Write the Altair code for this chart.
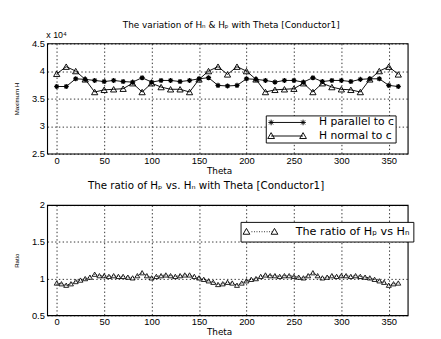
import altair as alt
import pandas as pd

FONT = "Liberation Sans"
TFONT = "DejaVu Sans"

theta = [0, 10, 20, 30, 40, 50, 60, 70, 80, 90, 100, 110, 120, 130, 140, 150, 160, 170, 180,
         190, 200, 210, 220, 230, 240, 250, 260, 270, 280, 290, 300, 310, 320, 330, 340, 350, 360]
h_parallel = [37200, 37200, 38600, 38500, 38300, 38100, 38300, 38100, 38000, 38800, 38000, 38300,
              38300, 38100, 38300, 38600, 38800, 37400, 37300, 37400, 38600, 38500, 38300, 38000,
              38300, 38300, 38000, 38800, 38100, 38300, 38300, 38100, 38500, 38600, 38600, 37400, 37200]
h_normal = [39500, 40800, 40000, 38500, 36200, 36600, 36700, 36800, 37800, 36200, 37800, 37100,
            36700, 36700, 36200, 38500, 40000, 40800, 39400, 40800, 40000, 38500, 36200, 36600,
            36700, 36800, 37800, 36200, 37800, 37100, 36700, 36600, 36200, 38500, 40000, 40800, 39400]

theta_ratio = [0, 5, 10, 15, 20, 25, 30, 35, 40, 45, 50, 55, 60, 65, 70, 75, 80, 85, 90, 95, 100,
               105, 110, 115, 120, 125, 130, 135, 140, 145, 150, 155, 160, 165, 170, 175, 180,
               185, 190, 195, 200, 205, 210, 215, 220, 225, 230, 235, 240, 245, 250, 255, 260,
               265, 270, 275, 280, 285, 290, 295, 300, 305, 310, 315, 320, 325, 330, 335, 340,
               345, 350, 355, 360]
ratio = [0.94, 0.93, 0.91, 0.93, 0.96, 0.98, 1.00, 1.02, 1.06, 1.04, 1.04, 1.03, 1.04, 1.03, 1.03,
         1.02, 1.01, 1.04, 1.08, 1.04, 1.01, 1.03, 1.04, 1.05, 1.04, 1.03, 1.04, 1.05, 1.05, 1.03,
         1.01, 0.99, 0.97, 0.95, 0.92, 0.93, 0.95, 0.94, 0.91, 0.94, 0.97, 0.99, 1.00, 1.03, 1.05,
         1.04, 1.04, 1.03, 1.04, 1.04, 1.03, 1.02, 1.01, 1.04, 1.08, 1.04, 1.01, 1.02, 1.04, 1.03,
         1.04, 1.04, 1.03, 1.04, 1.03, 1.02, 1.01, 0.99, 0.97, 0.95, 0.91, 0.93, 0.94]

x_ticks = [0, 50, 100, 150, 200, 250, 300, 350]
top_y_ticks = [25000, 30000, 35000, 40000, 45000]
bot_y_ticks = [0.5, 1.0, 1.5, 2.0]

PAR = "H parallel to c"
NORM = "H normal to c"
RAT = "The ratio of H\u209a vs H\u2099"

df_top = pd.DataFrame({
    "theta": theta + theta,
    "value": h_parallel + h_normal,
    "series": [PAR] * len(theta) + [NORM] * len(theta),
})
df_bot = pd.DataFrame({"theta": theta_ratio, "value": ratio, "series": [RAT] * len(ratio)})

STAR = "M-1,0L1,0M0,-1L0,1M-0.7,-0.7L0.7,0.7M-0.7,0.7L0.7,-0.7"


def star_at(cx, r=0.5):
    d = r * 0.7
    return (f"M{cx-r},0L{cx+r},0M{cx},{-r}L{cx},{r}"
            f"M{cx-d},{-d}L{cx+d},{d}M{cx-d},{d}L{cx+d},{-d}")


def tri_at(cx):
    return f"M{cx-0.6},0.45L{cx},-0.6L{cx+0.6},0.45Z"


LEG_STAR = "M-0.3,0L5.4,0" + star_at(-0.3) + star_at(5.4)
LEG_TRI = "M-0.3,0L5.4,0" + tri_at(-0.3) + tri_at(5.4)
dots = "".join(f"M{0.2 + 0.45*i},0L{0.35 + 0.45*i},0" for i in range(9))
LEG_RAT = dots + tri_at(-0.7) + tri_at(4.3)

x_enc = alt.X("theta:Q", scale=alt.Scale(domain=[-10, 370], nice=False, zero=False),
              axis=alt.Axis(values=x_ticks, title="Theta", titleX=184))

# ---------- top panel ----------
y_top = alt.Y("value:Q", scale=alt.Scale(domain=[25000, 45000], nice=False, zero=False),
              axis=alt.Axis(values=top_y_ticks, title="Maximum H",
                            labelExpr="format(datum.value/10000, '~g')"))

base_top = alt.Chart(df_top).encode(x=x_enc, y=y_top)
lines_top = base_top.mark_line(color="black", strokeWidth=1).encode(detail="series:N")
pts_par = base_top.transform_filter(alt.datum.series == PAR).mark_point(
    shape=STAR, size=30, color="black", filled=False, strokeWidth=1.3, opacity=1)
pts_norm = base_top.transform_filter(alt.datum.series == NORM).mark_point(
    shape="triangle-up", size=45, color="black", filled=False, strokeWidth=1, opacity=1)
leg_top = base_top.mark_point(opacity=0, size=144, filled=False, color="black").encode(
    shape=alt.Shape("series:N",
                    scale=alt.Scale(domain=[PAR, NORM], range=[LEG_STAR, LEG_TRI]),
                    legend=alt.Legend(title=None, orient="none", legendX=234, legendY=77,
                                      padding=1, labelOffset=43, symbolSize=144,
                                      symbolOpacity=1, symbolStrokeColor="black",
                                      symbolFillColor="transparent", symbolStrokeWidth=1,
                                      labelFontSize=11.5, labelFont=TFONT, rowPadding=2.5,
                                      strokeColor="black", fillColor="white", labelColor="black")))
exp_text = alt.Chart(pd.DataFrame({"t": ["x 10\u2074"]})).mark_text(
    align="left", baseline="bottom", fontSize=9.5, font=FONT, color="black").encode(
    x=alt.value(-1), y=alt.value(-4), text="t:N")

top = alt.layer(lines_top, pts_par, pts_norm, leg_top, exp_text).properties(
    width=386, height=118,
    title=alt.TitleParams("The variation of H\u2099 & H\u209a with Theta [Conductor1]",
                          fontSize=9.5, font=TFONT, fontWeight="normal", color="black",
                          anchor="middle", dx=4, offset=1))

# ---------- bottom panel ----------
y_bot = alt.Y("value:Q", scale=alt.Scale(domain=[0.5, 2.0], nice=False, zero=False),
              axis=alt.Axis(values=bot_y_ticks, title="Ratio", labelExpr="format(datum.value, '~g')"))
base_bot = alt.Chart(df_bot).encode(x=x_enc, y=y_bot)
line_bot = base_bot.mark_line(color="black", strokeWidth=1, strokeDash=[1, 1.5])
pts_bot = base_bot.mark_point(shape="triangle-up", size=28, color="black", filled=False,
                              strokeWidth=0.9, opacity=1)
leg_bot = base_bot.mark_point(opacity=0, size=144, filled=False, color="black").encode(
    shape=alt.Shape("series:N", scale=alt.Scale(domain=[RAT], range=[LEG_RAT]),
                    legend=alt.Legend(title=None, orient="none", legendX=207, legendY=18,
                                      padding=4, labelOffset=42, symbolSize=144,
                                      symbolOpacity=1, symbolStrokeColor="black",
                                      symbolFillColor="transparent", symbolStrokeWidth=1,
                                      labelFontSize=12, labelFont=TFONT,
                                      strokeColor="black", fillColor="white", labelColor="black")))

bottom = alt.layer(line_bot, pts_bot, leg_bot).properties(
    width=386, height=118,
    title=alt.TitleParams("The ratio of H\u209a vs. H\u2099 with Theta [Conductor1]",
                          fontSize=11, font=TFONT, fontWeight="normal", color="black",
                          anchor="middle", dx=-23, offset=10.5))

chart = alt.vconcat(top, bottom, spacing=3).resolve_scale(shape="independent").properties(
    padding={"left": 5, "top": 0, "right": 0, "bottom": 0}
).configure_view(stroke="black", strokeWidth=1.2).configure_axis(
    domain=False, ticks=False, grid=True, gridColor="black", gridDash=[1.5, 2.5],
    gridOpacity=0.85, gridWidth=1, labelFont=FONT, labelFontSize=10, labelColor="black",
    labelPadding=3, titleFont=FONT, titleFontSize=6.5, titleFontWeight="normal",
    titleColor="black", titlePadding=12.5
).configure_axisX(titlePadding=1, labelPadding=2, titleFont=TFONT, titleFontSize=9.5)

chart.save("out.html", embed_options={"renderer": "svg", "actions": False})
